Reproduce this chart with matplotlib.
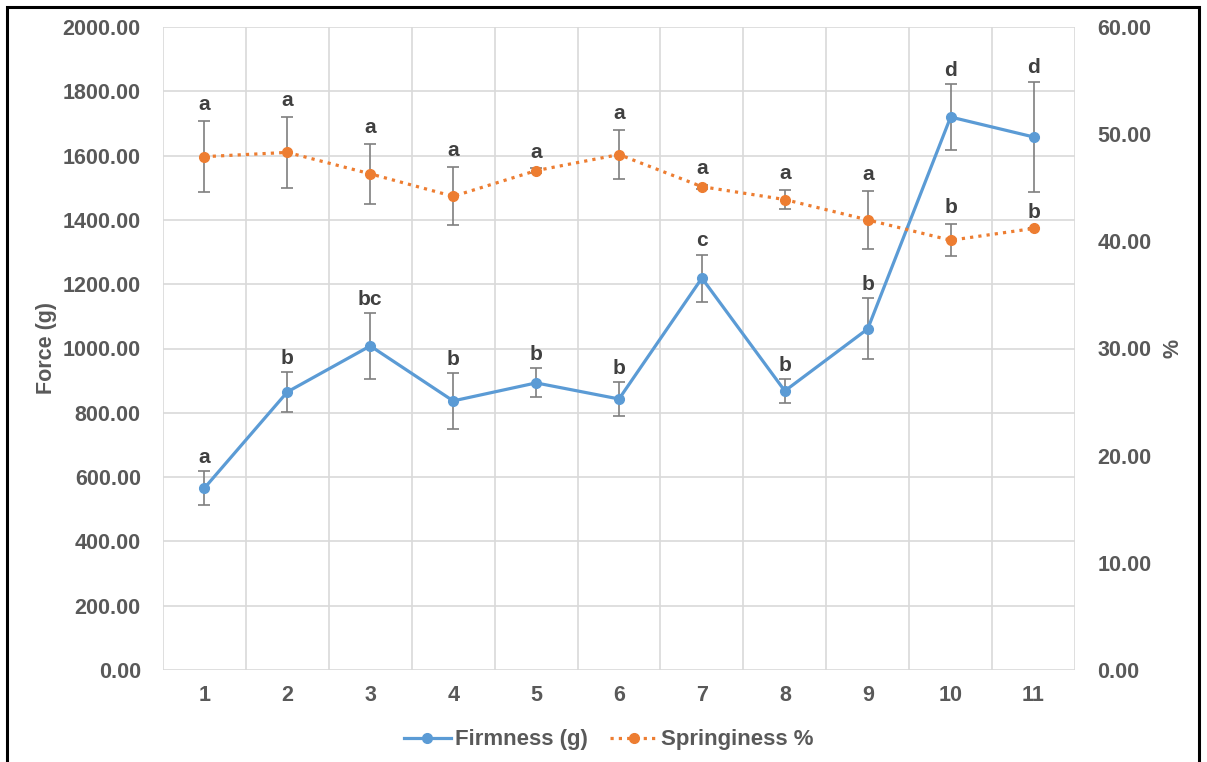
import matplotlib.pyplot as plt
from matplotlib.patches import Rectangle
from matplotlib.lines import Line2D
import numpy as np

plt.rcParams["font.family"] = ["Liberation Sans", "DejaVu Sans"]
plt.rcParams["font.weight"] = "bold"

samples = [1, 2, 3, 4, 5, 6, 7, 8, 9, 10, 11]

firmness = [566, 865, 1008, 837, 893, 843, 1219, 868, 1061, 1720, 1658]
firmness_err = [53, 62, 103, 87, 45, 53, 73, 37, 95, 103, 172]
firmness_letters = ["a", "b", "bc", "b", "b", "b", "c", "b", "b", "d", "d"]

springiness = [47.9, 48.3, 46.3, 44.2, 46.6, 48.1, 45.1, 43.9, 42.0, 40.1, 41.2]
springiness_err = [3.3, 3.3, 2.8, 2.7, 0.2, 2.3, 0.2, 0.9, 2.7, 1.5, 0.0]
springiness_letters = ["a", "a", "a", "a", "a", "a", "a", "a", "a", "b", "b"]

BLUE = "#5B9BD5"
ORANGE = "#ED7D31"
TXT = "#595959"
GRID = "#d9d9d9"
FS = 15.5

fig = plt.figure(figsize=(12.07, 7.62), dpi=100)
ax = fig.add_axes([163 / 1207, 92 / 762, 912 / 1207, 643 / 762])
ax2 = ax.twinx()

# firmness on left axis
ax.errorbar(samples, firmness, yerr=firmness_err, fmt="none", ecolor="#7f7f7f",
            elinewidth=1.2, capsize=4, capthick=1.2, zorder=3)
ax.plot(samples, firmness, color=BLUE, lw=2.3, marker="o", ms=7, zorder=4)
for x, y, e, t in zip(samples, firmness, firmness_err, firmness_letters):
    ax.annotate(t, (x, y + e), xytext=(0, 3), textcoords="offset points",
                ha="center", va="bottom", fontsize=15, color="#404040", fontweight="bold")

# springiness on right axis
ax2.errorbar(samples, springiness, yerr=springiness_err, fmt="none", ecolor="#7f7f7f",
             elinewidth=1.2, capsize=4, capthick=1.2, zorder=3)
ax2.plot(samples, springiness, color=ORANGE, lw=2.3, ls=(0, (1, 1.6)), marker="o",
         ms=7, zorder=4)
for x, y, e, t in zip(samples, springiness, springiness_err, springiness_letters):
    ax2.annotate(t, (x, y + e), xytext=(0, 5), textcoords="offset points",
                 ha="center", va="bottom", fontsize=15, color="#404040", fontweight="bold")

ax.set_xlim(0.5, 11.5)
ax.set_ylim(0, 2000)
ax2.set_ylim(0, 60)
ax.set_xticks(samples)
ax.set_xticks(np.arange(0.5, 12, 1), minor=True)
ax.set_yticks(np.arange(0, 2001, 200))
ax2.set_yticks(np.arange(0, 61, 10))
ax.set_yticklabels([f"{v:.2f}" for v in np.arange(0, 2001, 200)])
ax2.set_yticklabels([f"{v:.2f}" for v in np.arange(0, 61, 10)])

ax.grid(True, which="major", axis="y", color=GRID, lw=1.2)
ax.grid(True, which="minor", axis="x", color=GRID, lw=1.2)
ax.set_axisbelow(True)
for a in (ax, ax2):
    for s in a.spines.values():
        s.set_visible(False)
    a.tick_params(which="both", length=0, labelsize=FS, colors=TXT)
ax.tick_params(axis="x", pad=11)
ax.tick_params(axis="y", pad=16)
ax2.tick_params(axis="y", pad=16)

ax.set_ylabel("Force (g)", fontsize=FS, color=TXT, fontweight="bold", labelpad=4)
ax2.set_ylabel("%", fontsize=FS, color=TXT, fontweight="bold", labelpad=8)

handles = [
    Line2D([], [], color=BLUE, lw=2.3, marker="o", ms=7),
    Line2D([], [], color=ORANGE, lw=2.3, ls=(0, (1, 1.6)), marker="o", ms=7),
]
fig.legend(handles, ["Firmness (g)", "Springiness %"], loc="center",
           bbox_to_anchor=(609 / 1207, 1 - 740 / 762), ncol=2, frameon=False,
           fontsize=16, labelcolor=TXT, handlelength=2.1, columnspacing=1.0,
           handletextpad=0.2)

# outer frame
fig.patches.append(Rectangle((7 / 1207, -0.05), 1192 / 1207, 1.05 - 7 / 762,
                             transform=fig.transFigure, fill=False,
                             edgecolor="black", lw=2.2))

fig.savefig("out.png", dpi=100)
